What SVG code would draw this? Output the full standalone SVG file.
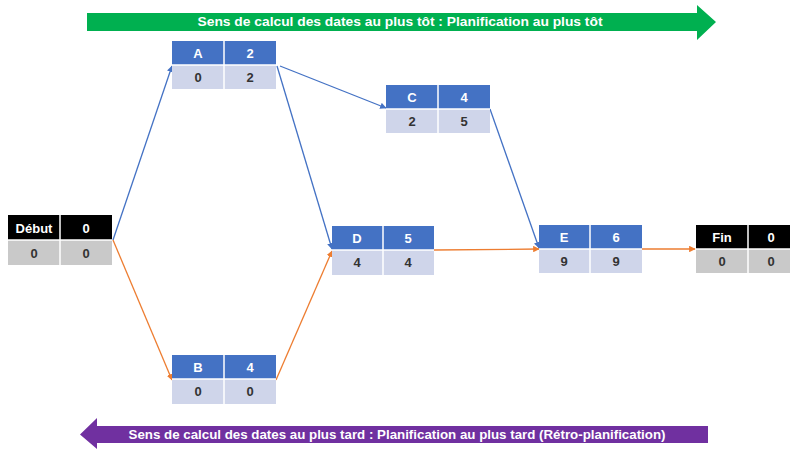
<svg xmlns="http://www.w3.org/2000/svg" width="790" height="449" viewBox="0 0 790 449">
<style>
text{font-family:"Liberation Sans",Arial,sans-serif;font-weight:bold;text-anchor:middle;dominant-baseline:central}
.hb{fill:#4472C4}.lb{fill:#CFD5EA}.hk{fill:#000}.lk{fill:#C9C9C9}
.ht{fill:#fff;font-size:13px}.lt{fill:#333;font-size:13px}
.sep{stroke:#fff;stroke-width:1.5}
.cb{stroke:#4472C4;stroke-width:1.3;fill:none;marker-end:url(#ab)}
.co{stroke:#ED7D31;stroke-width:1.3;fill:none;marker-end:url(#ao)}
.ban{fill:#fff;font-size:12px}
</style>
<defs>
<marker id="ab" viewBox="0 0 10 10" refX="9" refY="5" markerWidth="5" markerHeight="5" orient="auto"><path d="M0,0 L10,5 L0,10 z" fill="#4472C4"/></marker>
<marker id="ao" viewBox="0 0 10 10" refX="9" refY="5" markerWidth="5" markerHeight="5" orient="auto"><path d="M0,0 L10,5 L0,10 z" fill="#ED7D31"/></marker>
</defs>
<rect width="790" height="449" fill="#fff"/>
<g id="banner-top">
<path d="M87,13 H697 V5 L716,22 L697,40 V31 H87 Z" fill="#00B050"/>
<text class="ban" x="400" y="22" textLength="405" lengthAdjust="spacingAndGlyphs">Sens de calcul des dates au plus tôt : Planification au plus tôt</text>
</g>
<g id="banner-bottom">
<path d="M708,426 H97 V418 L80,434.5 L97,449 V443 H708 Z" fill="#7030A0"/>
<text class="ban" x="397" y="434.5" textLength="537" lengthAdjust="spacingAndGlyphs">Sens de calcul des dates au plus tard : Planification au plus tard (Rétro-planification)</text>
</g>
<g id="connectors">
<line class="cb" x1="113" y1="240" x2="172" y2="66"/>
<line class="co" x1="113" y1="240" x2="172" y2="380"/>
<line class="cb" x1="280" y1="66" x2="386" y2="108"/>
<line class="cb" x1="277" y1="66" x2="332" y2="249"/>
<line class="co" x1="276" y1="380" x2="332" y2="251"/>
<line class="cb" x1="490" y1="109" x2="539" y2="248"/>
<line class="co" x1="434" y1="250" x2="539" y2="249"/>
<line class="co" x1="642" y1="249" x2="695" y2="249"/>
</g>
<g id="node-debut">
<rect class="hk" x="8" y="215" width="104" height="25"/><rect class="lk" x="8" y="240" width="104" height="25"/>
<line class="sep" x1="8" y1="240" x2="112" y2="240"/><line class="sep" x1="60" y1="215" x2="60" y2="265"/>
<text class="ht" x="34" y="228">Début</text><text class="ht" x="86" y="228">0</text>
<text class="lt" x="34" y="253">0</text><text class="lt" x="86" y="253">0</text>
</g>
<g id="node-A">
<rect class="hb" x="172" y="41" width="104" height="24"/><rect class="lb" x="172" y="65" width="104" height="24"/>
<line class="sep" x1="172" y1="65" x2="276" y2="65"/><line class="sep" x1="224" y1="41" x2="224" y2="89"/>
<text class="ht" x="198" y="53">A</text><text class="ht" x="250" y="53">2</text>
<text class="lt" x="198" y="77">0</text><text class="lt" x="250" y="77">2</text>
</g>
<g id="node-C">
<rect class="hb" x="386" y="85" width="104" height="24"/><rect class="lb" x="386" y="109" width="104" height="24"/>
<line class="sep" x1="386" y1="109" x2="490" y2="109"/><line class="sep" x1="438" y1="85" x2="438" y2="133"/>
<text class="ht" x="412" y="97">C</text><text class="ht" x="464" y="97">4</text>
<text class="lt" x="412" y="121">2</text><text class="lt" x="464" y="121">5</text>
</g>
<g id="node-D">
<rect class="hb" x="332" y="226" width="102" height="24"/><rect class="lb" x="332" y="250" width="102" height="25"/>
<line class="sep" x1="332" y1="250" x2="434" y2="250"/><line class="sep" x1="383" y1="226" x2="383" y2="275"/>
<text class="ht" x="357" y="238">D</text><text class="ht" x="408" y="238">5</text>
<text class="lt" x="357" y="262">4</text><text class="lt" x="408" y="262">4</text>
</g>
<g id="node-E">
<rect class="hb" x="539" y="225" width="103" height="24"/><rect class="lb" x="539" y="249" width="103" height="24"/>
<line class="sep" x1="539" y1="249" x2="642" y2="249"/><line class="sep" x1="590" y1="225" x2="590" y2="273"/>
<text class="ht" x="564" y="237">E</text><text class="ht" x="616" y="237">6</text>
<text class="lt" x="564" y="261">9</text><text class="lt" x="616" y="261">9</text>
</g>
<g id="node-Fin">
<rect class="hk" x="696" y="225" width="94" height="24"/><rect class="lk" x="696" y="249" width="94" height="24"/>
<line class="sep" x1="696" y1="249" x2="790" y2="249"/><line class="sep" x1="748" y1="225" x2="748" y2="273"/>
<text class="ht" x="722" y="237">Fin</text><text class="ht" x="771" y="237">0</text>
<text class="lt" x="722" y="261">0</text><text class="lt" x="771" y="261">0</text>
</g>
<g id="node-B">
<rect class="hb" x="172" y="355" width="104" height="24"/><rect class="lb" x="172" y="379" width="104" height="25"/>
<line class="sep" x1="172" y1="379" x2="276" y2="379"/><line class="sep" x1="224" y1="355" x2="224" y2="404"/>
<text class="ht" x="198" y="367">B</text><text class="ht" x="250" y="367">4</text>
<text class="lt" x="198" y="391">0</text><text class="lt" x="250" y="391">0</text>
</g>
</svg>
